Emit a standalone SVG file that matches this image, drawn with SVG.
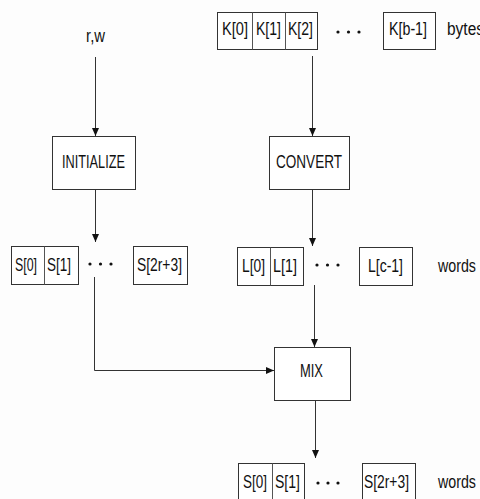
<svg xmlns="http://www.w3.org/2000/svg" width="480" height="499" viewBox="0 0 480 499">
<defs>
<style>
.box{fill:#fff;stroke:#333;stroke-width:1}
.div{stroke:#555;stroke-width:1}
.t{font-family:"Liberation Sans",Arial,sans-serif;font-size:18px;fill:#111}
.c{stroke:#333;stroke-width:1;fill:none}
.dot{fill:#111}
</style>
<marker id="ah" markerWidth="8" markerHeight="8" refX="8" refY="3.5" orient="auto" markerUnits="userSpaceOnUse">
<path d="M0,0 L8,3.5 L0,7 Z" fill="#111"/>
</marker>
</defs>
<rect width="480" height="499" fill="#fdfdfd"/>

<g id="rw"><text class="t" x="86" y="42" textLength="19" lengthAdjust="spacingAndGlyphs">r,w</text></g>

<g id="K">
<rect class="box" x="217.5" y="12.5" width="100" height="37"/>
<line class="div" x1="252.5" y1="12.5" x2="252.5" y2="49.5"/>
<line class="div" x1="285.5" y1="12.5" x2="285.5" y2="49.5"/>
<text class="t" x="222" y="35" textLength="26" lengthAdjust="spacingAndGlyphs">K[0]</text>
<text class="t" x="256" y="35" textLength="25" lengthAdjust="spacingAndGlyphs">K[1]</text>
<text class="t" x="288" y="35" textLength="25" lengthAdjust="spacingAndGlyphs">K[2]</text>
<circle class="dot" cx="338" cy="32" r="1.6"/><circle class="dot" cx="348.5" cy="32" r="1.6"/><circle class="dot" cx="359" cy="32" r="1.6"/>
<rect class="box" x="383.5" y="12.5" width="52" height="37"/>
<text class="t" x="389" y="35" textLength="38" lengthAdjust="spacingAndGlyphs">K[b-1]</text>
<text class="t" x="447" y="35" textLength="37" lengthAdjust="spacingAndGlyphs">bytes</text>
</g>

<g id="initialize">
<rect class="box" x="52.5" y="136.5" width="83" height="53"/>
<text class="t" x="62" y="168" textLength="63" lengthAdjust="spacingAndGlyphs">INITIALIZE</text>
</g>

<g id="convert">
<rect class="box" x="269.5" y="136.5" width="80" height="53"/>
<text class="t" x="276" y="168" textLength="66" lengthAdjust="spacingAndGlyphs">CONVERT</text>
</g>

<g id="S">
<rect class="box" x="11.5" y="246.5" width="67" height="38"/>
<line class="div" x1="44.5" y1="246.5" x2="44.5" y2="284.5"/>
<text class="t" x="15" y="271" textLength="22" lengthAdjust="spacingAndGlyphs">S[0]</text>
<text class="t" x="47" y="271" textLength="24" lengthAdjust="spacingAndGlyphs">S[1]</text>
<circle class="dot" cx="90" cy="264" r="1.6"/><circle class="dot" cx="100.5" cy="264" r="1.6"/><circle class="dot" cx="111" cy="264" r="1.6"/>
<rect class="box" x="133.5" y="246.5" width="54" height="38"/>
<text class="t" x="137" y="271" textLength="45" lengthAdjust="spacingAndGlyphs">S[2r+3]</text>
</g>

<g id="L">
<rect class="box" x="237.5" y="247.5" width="66" height="38"/>
<line class="div" x1="270.5" y1="247.5" x2="270.5" y2="285.5"/>
<text class="t" x="242" y="272" textLength="23" lengthAdjust="spacingAndGlyphs">L[0]</text>
<text class="t" x="273" y="272" textLength="24" lengthAdjust="spacingAndGlyphs">L[1]</text>
<circle class="dot" cx="317" cy="265" r="1.6"/><circle class="dot" cx="327.5" cy="265" r="1.6"/><circle class="dot" cx="338" cy="265" r="1.6"/>
<rect class="box" x="359.5" y="247.5" width="53" height="38"/>
<text class="t" x="368" y="272" textLength="35" lengthAdjust="spacingAndGlyphs">L[c-1]</text>
<text class="t" transform="translate(438,272) scale(0.79,1)">words</text>
</g>

<g id="mix">
<rect class="box" x="274.5" y="347.5" width="76" height="53"/>
<text class="t" x="300" y="377" textLength="23" lengthAdjust="spacingAndGlyphs">MIX</text>
</g>

<g id="Sout">
<rect class="box" x="238.5" y="463.5" width="66" height="40"/>
<line class="div" x1="272.5" y1="463.5" x2="272.5" y2="503"/>
<text class="t" x="243" y="488" textLength="24" lengthAdjust="spacingAndGlyphs">S[0]</text>
<text class="t" x="275" y="488" textLength="25" lengthAdjust="spacingAndGlyphs">S[1]</text>
<circle class="dot" cx="318" cy="483" r="1.6"/><circle class="dot" cx="328" cy="483" r="1.6"/><circle class="dot" cx="338" cy="483" r="1.6"/>
<rect class="box" x="362.5" y="463.5" width="53" height="40"/>
<text class="t" x="364" y="488" textLength="45" lengthAdjust="spacingAndGlyphs">S[2r+3]</text>
<text class="t" transform="translate(438,488) scale(0.79,1)">words</text>
</g>

<g id="connectors">
<line class="c" x1="95.5" y1="57" x2="95.5" y2="136" marker-end="url(#ah)"/>
<line class="c" x1="95.5" y1="189" x2="95.5" y2="242" marker-end="url(#ah)"/>
<line class="c" x1="312.5" y1="56" x2="312.5" y2="136" marker-end="url(#ah)"/>
<line class="c" x1="312.5" y1="189" x2="312.5" y2="246" marker-end="url(#ah)"/>
<polyline class="c" points="94.5,277 94.5,370.5 274,370.5" marker-end="url(#ah)"/>
<line class="c" x1="314.5" y1="285" x2="314.5" y2="347" marker-end="url(#ah)"/>
<line class="c" x1="315.5" y1="400" x2="315.5" y2="458" marker-end="url(#ah)"/>
</g>
</svg>
